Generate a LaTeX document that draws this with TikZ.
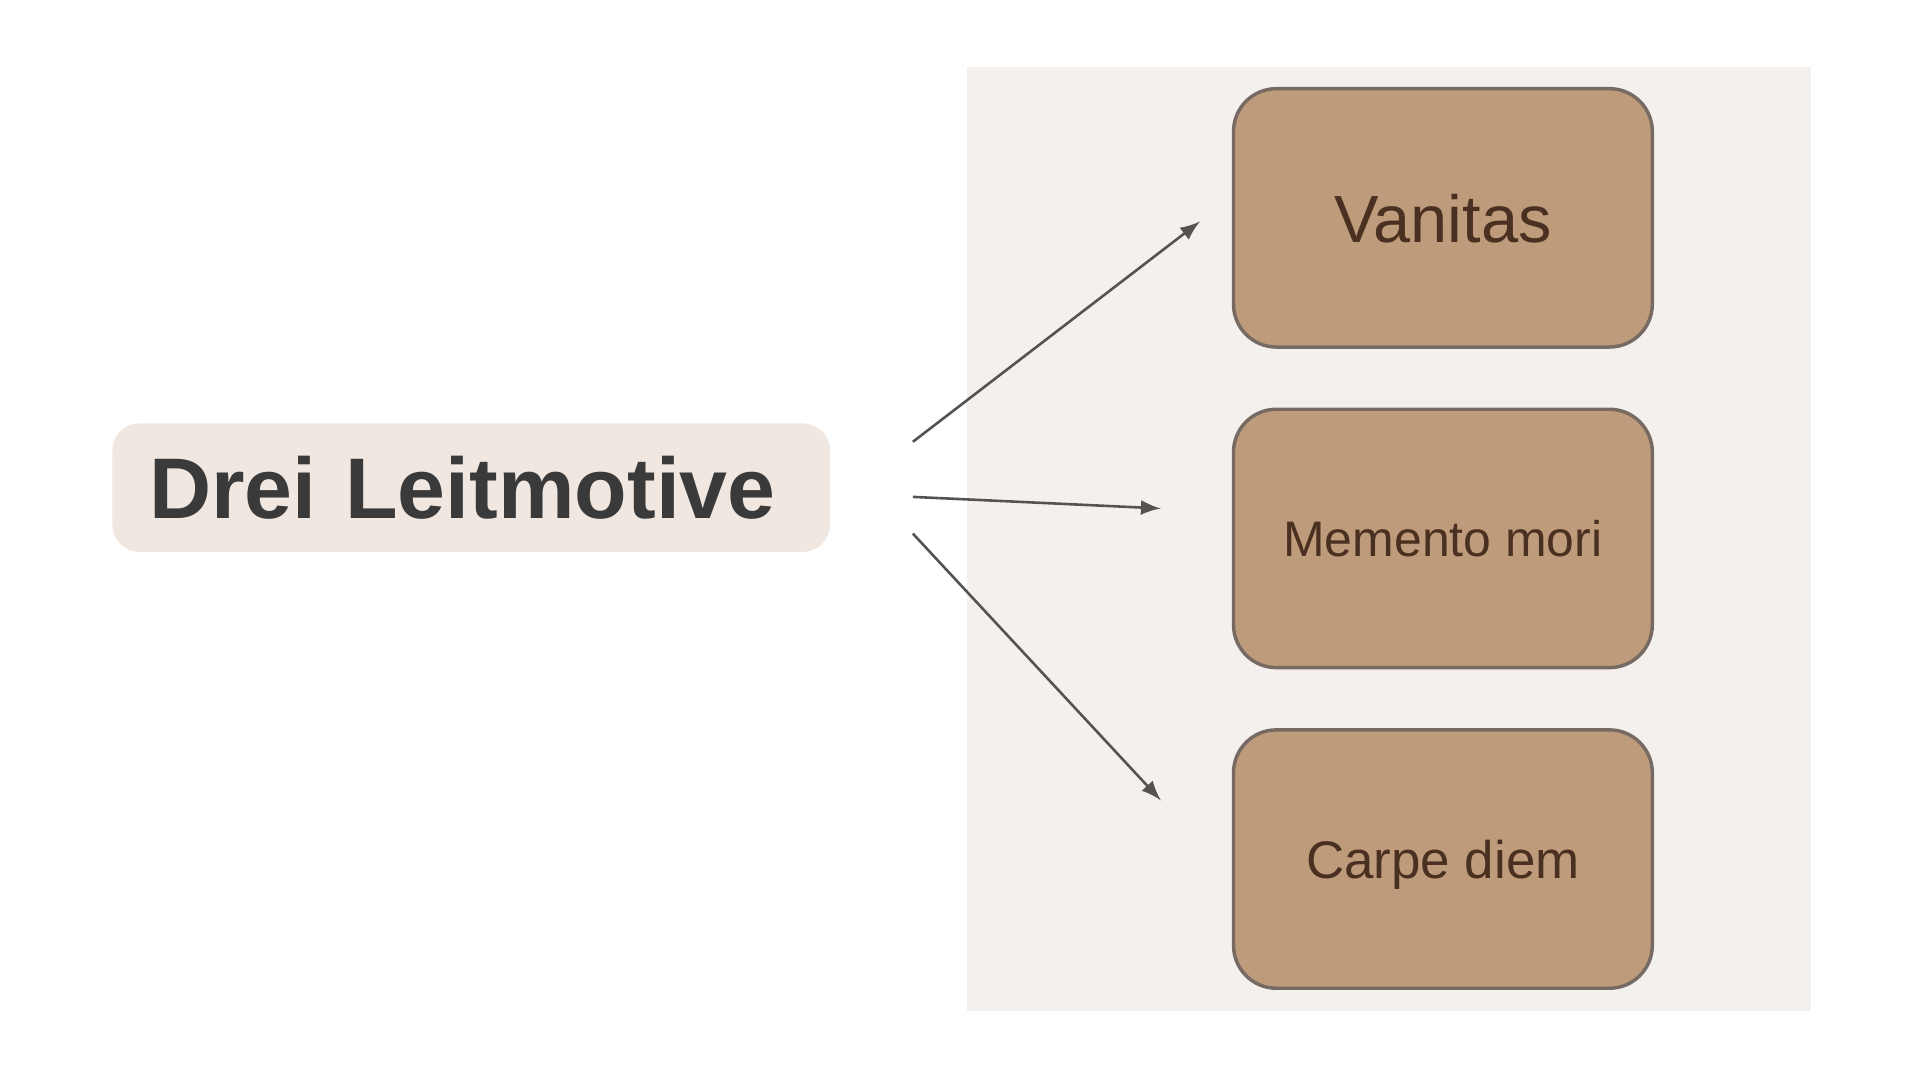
\documentclass[tikz,border=0pt]{standalone}
\usepackage{fontspec}
\setmainfont{Liberation Sans}
\usetikzlibrary{arrows,positioning,backgrounds}
\definecolor{paneltone}{HTML}{F4F0EE}
\definecolor{titlefill}{HTML}{F0E7E1}
\definecolor{titleink}{HTML}{3A3A3A}
\definecolor{motiffill}{HTML}{BE9B7B}
\definecolor{motifdraw}{HTML}{766A62}
\definecolor{motifink}{HTML}{4A3020}
\definecolor{arrowink}{HTML}{555250}
\tikzstyle{title}=[rectangle, rounded corners=2.2mm, fill=titlefill, text=titleink, text width=5.26cm, inner xsep=3mm, minimum height=10.5mm, align=left, font=\fontsize{20}{24}\selectfont\bfseries]
\tikzstyle{motif}=[rectangle, rounded corners=3.5mm, line width=0.8pt, fill=motiffill, draw=motifdraw, text=motifink, text depth=0pt, minimum width=34.2mm, minimum height=21.1mm]
\tikzstyle{connect}=[-latex, line width=0.6pt, draw=arrowink]

\begin{document}
\begin{tikzpicture}[x=0.01cm, y=-0.01cm]
  \useasboundingbox (0,0) rectangle (1568,882);
  \fill[paneltone] (790,55) rectangle (1480,826);

  \node[title] (Leit) at (385,398.5) {Drei Leitmotive};
  \node[motif, font=\fontsize{15.5}{18}\selectfont] (Van) at (1179,178) {Vanitas};
  \node[motif, font=\fontsize{11.6}{14}\selectfont] (Mem) [below=4.8mm of Van]{Memento mori};
  \node[motif, font=\fontsize{12.3}{15}\selectfont] (Carp) [below=4.8mm of Mem]{Carpe diem};

  \coordinate (s1) at ([xshift=6.7mm,yshift=3.75mm]Leit.east);
  \coordinate (s2) at ([xshift=6.7mm,yshift=-0.75mm]Leit.east);
  \coordinate (s3) at ([xshift=6.7mm,yshift=-3.75mm]Leit.east);
  \coordinate (t1) at ([xshift=-2.6mm,yshift=-0.3mm]Van.west);
  \coordinate (t2) at ([xshift=-5.8mm,yshift=2.45mm]Mem.west);
  \coordinate (t3) at ([xshift=-5.8mm,yshift=4.8mm]Carp.west);

  \path (s1) edge [connect] (t1)
        (s2) edge [connect] (t2)
        (s3) edge [connect] (t3);
\end{tikzpicture}
\end{document}
